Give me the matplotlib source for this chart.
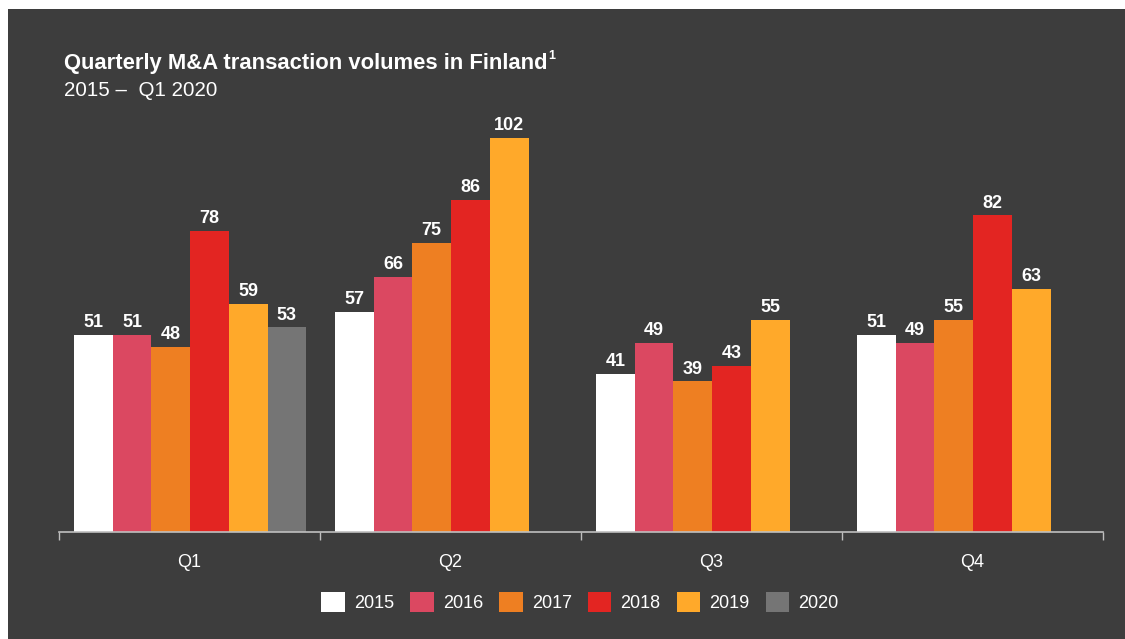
import matplotlib
matplotlib.use("Agg")
import matplotlib.pyplot as plt
import numpy as np
from matplotlib.patches import Rectangle

plt.rcParams['font.family'] = ['Liberation Sans', 'DejaVu Sans']

quarters = ["Q1", "Q2", "Q3", "Q4"]
years = ["2015", "2016", "2017", "2018", "2019", "2020"]
values = {
    "2015": [51, 57, 41, 51],
    "2016": [51, 66, 49, 49],
    "2017": [48, 75, 39, 55],
    "2018": [78, 86, 43, 82],
    "2019": [59, 102, 55, 63],
    "2020": [53, None, None, None],
}
colors = ["#FFFFFF", "#DB4861", "#EE7F22", "#E32522", "#FFA92A", "#757575"]
bg = "#3D3D3D"

W, H = 1125, 639
fig = plt.figure(figsize=(W / 100, H / 100), dpi=100)
fig.patch.set_facecolor("white")
fig.patches.append(Rectangle((8 / W, 0), 1 - 8 / W, 1 - 9 / H, transform=fig.transFigure,
                             facecolor=bg, edgecolor="none", zorder=-10))

# axes: x from 59 to 1103 px, baseline at y=532 px, 3.86 px per unit
x0, x1 = 59, 1103
base = 532
ppu = 3.86
ytop_val = 110
ax = fig.add_axes([x0 / W, (H - base) / H, (x1 - x0) / W, ytop_val * ppu / H])
ax.set_facecolor("none")
ax.set_xlim(-0.5, 3.5)
ax.set_ylim(0, ytop_val)

bw = 38.7 / (x1 - x0) * 4
margin = 15 / (x1 - x0) * 4
for i, (yr, c) in enumerate(zip(years, colors)):
    for g, v in enumerate(values[yr]):
        if v is None:
            continue
        xc = g - 0.5 + margin + (i + 0.5) * bw
        ax.bar(xc, v, width=bw, color=c, edgecolor="none", zorder=2)
        ax.text(xc, v + 1.0, str(v), ha="center", va="bottom", color="white",
                fontsize=13, fontweight="bold")

for s in ["top", "right", "left"]:
    ax.spines[s].set_visible(False)
ax.spines["bottom"].set_color("#BFBFBF")
ax.spines["bottom"].set_linewidth(1.2)
ax.set_yticks([])
ax.set_xticks([-0.5, 0.5, 1.5, 2.5, 3.5])
ax.set_xticklabels([])
ax.tick_params(axis="x", colors="#BFBFBF", length=6, width=1, direction="out")
for g, q in enumerate(quarters):
    ax.text(g, -8, q, ha="center", va="center", color="white", fontsize=13)

handles = [Rectangle((0, 0), 1, 1, facecolor=c, edgecolor="none") for c in colors]
leg = fig.legend(handles, years, loc="center", bbox_to_anchor=(580 / W, 1 - 602 / H),
                 ncol=6, frameon=False, fontsize=13, handlelength=1.3, handleheight=1.3,
                 handletextpad=0.5, columnspacing=0.9)
for t in leg.get_texts():
    t.set_color("white")

title = fig.text(64 / W, 1 - 64 / H, "Quarterly M&A transaction volumes in Finland",
                 color="white", fontsize=15.8, fontweight="bold", va="center", ha="left")
fig.canvas.draw()
bb = title.get_window_extent()
fig.text((bb.x1 + 1) / W, 1 - 56 / H, "1", color="white", fontsize=9,
         fontweight="bold", va="center", ha="left")
fig.text(64 / W, 1 - 90 / H, "2015 \u2013  Q1 2020", color="white", fontsize=14.8,
         va="center", ha="left")

fig.savefig("out.png", dpi=100, facecolor=fig.get_facecolor())
